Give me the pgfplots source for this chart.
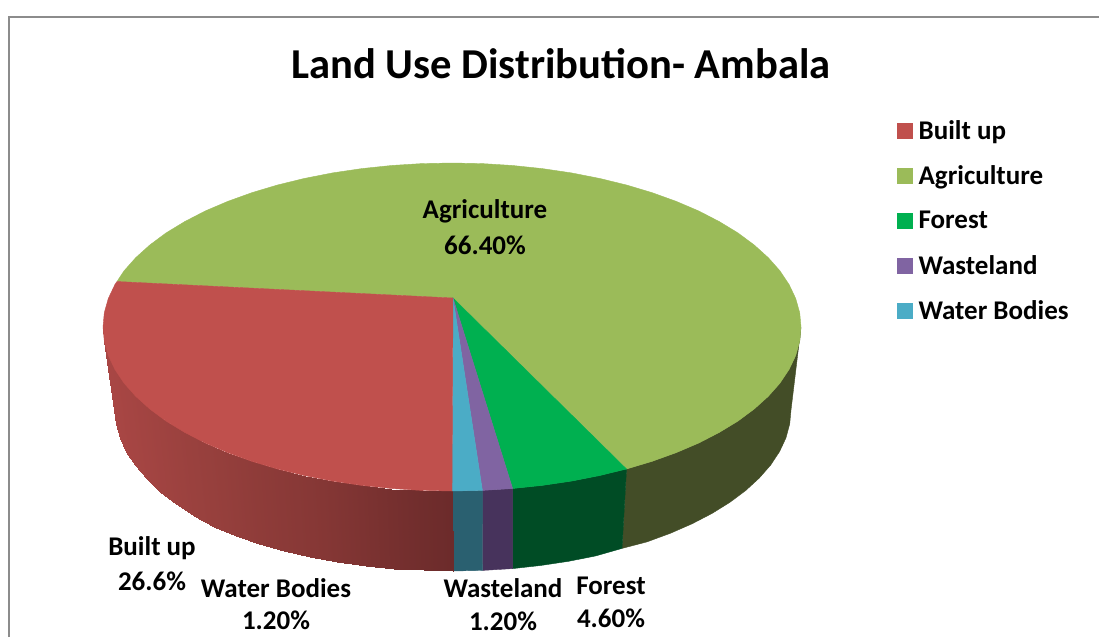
\documentclass[border=0pt]{standalone}
\usepackage{pgfplots}
\pgfplotsset{compat=1.18}
\usepackage{fontspec}
\setmainfont{Carlito}
\definecolor{cB}{HTML}{C0504D}
\definecolor{cA}{HTML}{9BBB59}
\definecolor{cF}{HTML}{00B050}
\definecolor{cW}{HTML}{8064A2}
\definecolor{cR}{HTML}{4BACC6}
\definecolor{sL}{HTML}{A84644}
\definecolor{sM}{HTML}{97403D}
\definecolor{sN}{HTML}{853735}
\definecolor{sR}{HTML}{6C2B2B}
\definecolor{sA}{HTML}{434D27}
\definecolor{sF}{HTML}{004C25}
\definecolor{sW}{HTML}{47335C}
\definecolor{sC}{HTML}{2A6070}
\definecolor{frame}{HTML}{8C8C8C}
\pgfplotsset{poly/.style={draw=#1,fill=#1,line width=.4pt,mark=none,forget plot}}
\begin{document}
\begin{tikzpicture}
\begin{axis}[
  scale only axis, width=1099pt, height=637pt,
  xmin=0, xmax=1099, ymin=0, ymax=637, y dir=reverse,
  axis lines=none, ticks=none, clip=true,
  colormap={builtup}{color=(sL) color=(sM) color=(sN) color=(sR)},
  legend cell align=left,
  legend style={at={(axis cs:897,118)},anchor=north west,draw=none,fill=none,
    font=\fontsize{27}{32}\selectfont\bfseries,row sep=21pt,inner sep=0pt,
    /tikz/every odd column/.append style={column sep=4pt}},
  legend image code/.code={\fill[#1] (0pt,-7.5pt) rectangle (15pt,7.5pt);},
]
% background, which also fixes the picture's extent
\addplot[draw=none,fill=white,forget plot,mark=none] coordinates {(0,0) (1099,0) (1099,637) (0,637)} --cycle;
% frame
\addplot[frame,line width=2pt,mark=none,forget plot] coordinates {(9,637) (9,16.5) (1099,16.5)};
% side: agriculture
\addplot[poly=sA] coordinates {(801,327) (799.7,341.3) (795.7,355.5) (789.1,369.4) (780,383.1) (768.3,396.3) (754.2,409) (737.9,421.1) (719.3,432.4) (698.8,443) (676.3,452.6) (652.2,461.3) (626.5,469) (622,548.4) (646.9,541.9) (670.3,533.3) (692,523.8) (711.9,513.5) (729.9,502.3) (745.7,490.5) (759.3,478) (770.6,465.1) (779.5,451.7) (785.9,438) (789.7,424) (791,410)} --cycle;
% side: forest
\addplot[poly=sF] coordinates {(626.5,469) (599.5,475.6) (571.4,481.1) (542.3,485.4) (512.6,488.5) (512.6,568.6) (540.5,565.5) (568.6,561.3) (595.8,555.9) (622,548.4)} --cycle;
% side: wasteland
\addplot[poly=sW] coordinates {(512.6,488.5) (482.4,490.4) (482.5,570.4) (512.6,568.6)} --cycle;
% side: water
\addplot[poly=sC] coordinates {(482.4,490.4) (452,491) (453,571) (482.5,570.4)} --cycle;
% side: built up, shaded darker towards the front
\addplot[surf,shader=interp,mesh/cols=19,mesh/rows=2,point meta=explicit,forget plot] table[meta=m] {
x y m
103 327 0
104.3 341.3 0
108.3 355.5 0
114.9 369.4 0.02
124 383.1 0.05
135.7 396.3 0.09
149.8 409 0.14
166.1 421.1 0.2
184.7 432.4 0.27
205.2 443 0.33
227.7 452.6 0.4
251.8 461.3 0.48
277.5 469 0.55
304.5 475.6 0.62
332.6 481.1 0.7
361.7 485.4 0.78
391.4 488.5 0.86
421.6 490.4 0.94
452 491 1
115 410 0
116.3 424 0
120.1 438 0
126.5 451.7 0.02
135.4 465.1 0.05
146.7 478.5 0.09
160.3 492 0.14
176.1 504 0.2
194.1 516 0.27
214 526.5 0.33
235.7 536 0.4
259.1 544 0.48
284 551 0.55
310.2 557 0.62
337.4 562 0.7
365.5 565.5 0.78
394.3 568.6 0.86
423.5 570.4 0.94
453 571 1
};
% top faces
\addplot[poly=cA] coordinates {(453,298) (626.5,469) (652.2,461.3) (676.3,452.6) (698.8,443) (719.3,432.4) (737.9,421.1) (754.2,409) (768.3,396.3) (780,383.1) (789.1,369.4) (795.7,355.5) (799.7,341.3) (801,327) (799.7,312.7) (795.7,298.5) (789.1,284.6) (780,270.9) (768.3,257.7) (754.2,245) (737.9,232.9) (719.3,221.6) (698.8,211) (676.3,201.4) (652.2,192.7) (626.5,185) (599.5,178.4) (571.4,172.9) (542.3,168.6) (512.6,165.5) (482.4,163.6) (452,163) (421.6,163.6) (391.4,165.5) (361.7,168.6) (332.6,172.9) (304.5,178.4) (277.5,185) (251.8,192.7) (227.7,201.4) (205.2,211) (184.7,221.6) (166.1,232.9) (149.8,245) (135.7,257.7) (124,270.9) (117,281.5)} --cycle;
\addplot[poly=cF] coordinates {(453,298) (512.6,488.5) (542.3,485.4) (571.4,481.1) (599.5,475.6) (626.5,469)} --cycle;
\addplot[poly=cW] coordinates {(453,298) (482.4,490.4) (512.6,488.5)} --cycle;
\addplot[poly=cR] coordinates {(453,298) (452,491) (482.4,490.4)} --cycle;
\addplot[poly=cB] coordinates {(453,298) (117,281.5) (114.9,284.6) (108.3,298.5) (104.3,312.7) (103,327) (104.3,341.3) (108.3,355.5) (114.9,369.4) (124,383.1) (135.7,396.3) (149.8,409) (166.1,421.1) (184.7,432.4) (205.2,443) (227.7,452.6) (251.8,461.3) (277.5,469) (304.5,475.6) (332.6,481.1) (361.7,485.4) (391.4,488.5) (421.6,490.4) (452,491)} --cycle;
% legend
\addlegendimage{cB}\addlegendentry{Built up}
\addlegendimage{cA}\addlegendentry{Agriculture}
\addlegendimage{cF}\addlegendentry{Forest}
\addlegendimage{cW}\addlegendentry{Wasteland}
\addlegendimage{cR}\addlegendentry{Water Bodies}
% text
\node[font=\fontsize{42.6}{50}\selectfont\bfseries] at (axis cs:561,64) {Land Use Distribution- Ambala};
\begin{scope}[every node/.style={font=\fontsize{27}{32}\selectfont\bfseries}]
\node at (axis cs:485,211) {Agriculture};
\node at (axis cs:485,245) {66.40\%};
\node at (axis cs:152,548) {Built up};
\node at (axis cs:152,581) {26.6\%};
\node at (axis cs:276,588) {Water Bodies};
\node at (axis cs:276,620) {1.20\%};
\node at (axis cs:503,588) {Wasteland};
\node at (axis cs:503,621) {1.20\%};
\node at (axis cs:611,586) {Forest};
\node at (axis cs:611,618) {4.60\%};
\end{scope}
\end{axis}
\end{tikzpicture}
\end{document}
